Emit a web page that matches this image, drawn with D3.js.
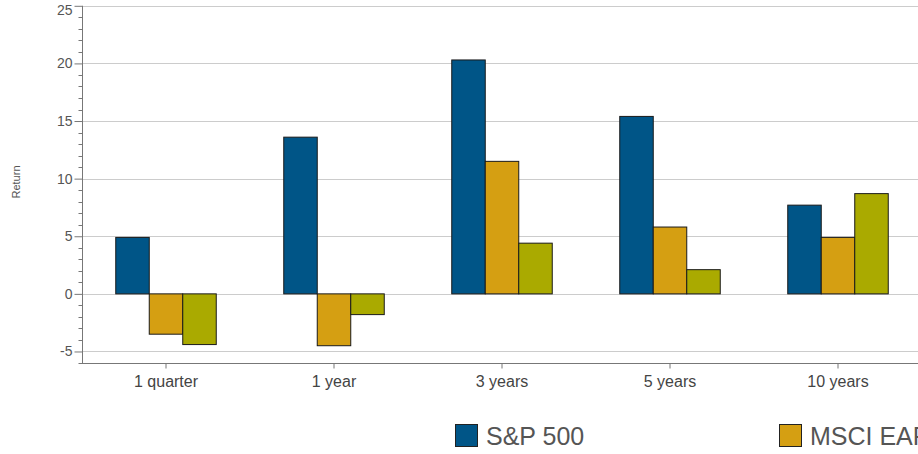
<!DOCTYPE html>
<html>
<head>
<meta charset="utf-8">
<script src="https://cdn.jsdelivr.net/npm/d3@7"></script>
<style>
  html, body { margin: 0; padding: 0; background: #fff; overflow: hidden; }
  svg { display: block; font-family: "Liberation Sans", Arial, sans-serif; }
</style>
</head>
<body>
<svg id="chart" width="918" height="454"></svg>
<script>
const categories = ["1 quarter", "1 year", "3 years", "5 years", "10 years"];
const seriesNames = ["S&P 500", "MSCI EAFE", "MSCI EM"];
const sp500 = [4.9, 13.6, 20.3, 15.4, 7.7];
const msciEafe = [-3.5, -4.5, 11.5, 5.8, 4.9];
const msciEm = [-4.4, -1.8, 4.4, 2.1, 8.7];
const colors = ["#005587", "#d59f12", "#aaaa00"];
const yTicks = [-5, 0, 5, 10, 15, 20, 25];

(function () {
const series = [sp500, msciEafe, msciEm];
const svg = d3.select("#chart");
const W = 918;
const mLeft = 82, mRight = 922, mTop = 5, mBottom = 363;

const x = d3.scaleBand().domain(categories).range([mLeft, mRight]).paddingInner(0).paddingOuter(0);
const y = d3.scaleLinear().domain([-6, 25]).range([mBottom, mTop + 0.8]);
const barW = 33.5;
const x1 = d3.scaleBand().domain(d3.range(series.length)).range([0, barW * series.length]);

// gridlines
svg.append("g").selectAll("line").data(yTicks).join("line")
  .attr("x1", mLeft).attr("x2", W)
  .attr("y1", d => Math.round(y(d)) + 0.5).attr("y2", d => Math.round(y(d)) + 0.5)
  .attr("stroke", "#cccccc").attr("stroke-width", 1);

// bars
const groups = svg.append("g").selectAll("g").data(categories).join("g")
  .attr("transform", c => `translate(${x(c) + x.bandwidth() / 2 - barW * series.length / 2},0)`);
groups.selectAll("rect").data((c, i) => series.map((s, k) => ({ k, v: s[i] }))).join("rect")
  .attr("x", d => x1(d.k))
  .attr("width", x1.bandwidth())
  .attr("y", d => y(Math.max(0, d.v)))
  .attr("height", d => Math.abs(y(d.v) - y(0)))
  .attr("fill", d => colors[d.k])
  .attr("stroke", "#1a1a1a").attr("stroke-width", 1);

// y axis
const yAxis = d3.axisLeft(y).tickValues(yTicks).tickSize(8).tickPadding(2).tickFormat(d => String(d));
const ya = svg.append("g").attr("transform", `translate(${mLeft + 0.5},0)`).call(yAxis);
ya.select(".domain").attr("stroke", "#777").attr("d", `M0,${y(25)}V${mBottom}`);
ya.selectAll(".tick line").attr("stroke", "#777");
ya.selectAll(".tick text").attr("fill", "#555").style("font-size", "14px").style("font-family", "Liberation Sans, Arial, sans-serif")
  .attr("dy", d => d === 25 ? "0.62em" : "0.32em");
const minor = d3.range(-6, 26).filter(v => v % 5 !== 0);
ya.append("g").selectAll("line").data(minor).join("line")
  .attr("x1", -4).attr("x2", 0)
  .attr("y1", d => Math.round(y(d)) + 0.5).attr("y2", d => Math.round(y(d)) + 0.5)
  .attr("stroke", "#777");

// x axis
const xAxis = d3.axisBottom(x).tickSize(5).tickPadding(7).tickSizeOuter(0);
const xa = svg.append("g").attr("transform", `translate(0,${mBottom + 0.5})`).call(xAxis);
xa.select(".domain").attr("stroke", "#777").attr("d", `M${mLeft},0H${W}`);
xa.selectAll(".tick line").attr("stroke", "#777");
xa.selectAll(".tick text").attr("fill", "#444").style("font-size", "16px").style("font-family", "Liberation Sans, Arial, sans-serif");

// y title
svg.append("text").attr("transform", `translate(19.5,182) rotate(-90)`)
  .attr("text-anchor", "middle").attr("fill", "#555").style("font-size", "11px").text("Return");

// legend
const legend = svg.append("g").attr("transform", "translate(455,424)");
const li = legend.selectAll("g").data(seriesNames).join("g")
  .attr("transform", (d, i) => `translate(${i * 324},0)`);
li.append("rect").attr("x", 0.5).attr("y", 0.5).attr("width", 22).attr("height", 22)
  .attr("fill", (d, i) => colors[i]).attr("stroke", "#222");
li.append("text").attr("x", 31).attr("y", 21).attr("fill", "#555")
  .style("font-size", "25px").text(d => d);
})();
</script>
</body>
</html>
